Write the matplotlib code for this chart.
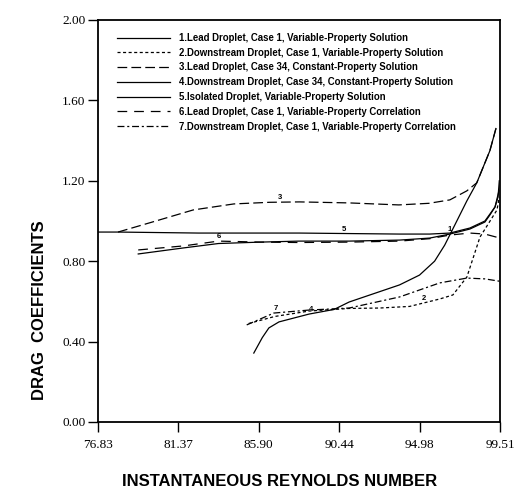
import numpy as np
import matplotlib
matplotlib.use("Agg")
import matplotlib.pyplot as plt

plt.rcParams['lines.scale_dashes'] = False

# reynolds number (x) / drag coefficient (y)
x1 = [79.10, 81.65, 83.63, 86.0, 88.17, 91.0, 93.84, 95.54, 96.68, 97.81, 98.66, 98.94, 99.23, 99.40, 99.47]
y1 = [0.836, 0.866, 0.888, 0.895, 0.900, 0.900, 0.905, 0.915, 0.935, 0.960, 0.995, 1.030, 1.070, 1.120, 1.200]

x2 = [85.33, 86.8, 88.74, 91.0, 92.71, 94.41, 96.11, 96.85, 97.64, 98.38, 99.34, 99.47]
y2 = [0.490, 0.525, 0.552, 0.565, 0.567, 0.575, 0.612, 0.632, 0.721, 0.920, 1.055, 1.120]

x3 = [77.96, 79.9, 82.2, 84.5, 86.5, 88.2, 91.0, 93.8, 95.5, 96.68, 97.64, 98.20, 98.94, 99.28]
y3 = [0.945, 0.995, 1.055, 1.085, 1.093, 1.095, 1.090, 1.080, 1.088, 1.105, 1.150, 1.190, 1.350, 1.460]

x4 = [85.62, 86.10, 86.47, 87.04, 88.74, 90.15, 91.0, 93.84, 94.97, 95.82, 96.39, 96.96, 97.64, 98.20, 98.94, 99.28]
y4 = [0.343, 0.420, 0.468, 0.498, 0.537, 0.560, 0.597, 0.682, 0.731, 0.800, 0.880, 0.980, 1.100, 1.190, 1.350, 1.460]

x5 = [76.83, 77.96, 82.5, 88.17, 93.84, 95.54, 96.68, 97.81, 98.66, 99.23, 99.45]
y5 = [0.945, 0.945, 0.940, 0.940, 0.935, 0.935, 0.940, 0.965, 1.000, 1.070, 1.150]

x6 = [79.10, 81.65, 83.63, 86.0, 88.17, 91.0, 93.84, 95.54, 96.68, 97.81, 98.66, 99.51]
y6 = [0.856, 0.876, 0.900, 0.895, 0.893, 0.895, 0.900, 0.912, 0.930, 0.940, 0.935, 0.915]

x7 = [85.22, 86.75, 88.74, 91.0, 93.84, 96.11, 97.64, 98.66, 99.51]
y7 = [0.483, 0.542, 0.557, 0.567, 0.622, 0.692, 0.716, 0.712, 0.700]

labels = [
    "1.Lead Droplet, Case 1, Variable-Property Solution",
    "2.Downstream Droplet, Case 1, Variable-Property Solution",
    "3.Lead Droplet, Case 34, Constant-Property Solution",
    "4.Downstream Droplet, Case 34, Constant-Property Solution",
    "5.Isolated Droplet, Variable-Property Solution",
    "6.Lead Droplet, Case 1, Variable-Property Correlation",
    "7.Downstream Droplet, Case 1, Variable-Property Correlation",
]
styles = ['-', (0, (2.2, 1.8)), (0, (7, 3)), '-', '-', (0, (7, 5)), (0, (5, 2, 1.5, 2))]
curves = [(x1, y1), (x2, y2), (x3, y3), (x4, y4), (x5, y5), (x6, y6), (x7, y7)]

# where the little curve numbers sit (x value on each curve)
tag_x = {"1": (0, 96.68), "2": (1, 95.2), "3": (2, 87.09), "4": (3, 88.85),
         "5": (4, 90.72), "6": (5, 83.63), "7": (6, 86.87)}

xticks = [76.83, 81.37, 85.90, 90.44, 94.98, 99.51]
yticks = [0.0, 0.4, 0.8, 1.2, 1.6, 2.0]

fig = plt.figure(figsize=(5.29, 4.95), dpi=100)
ax = fig.add_axes([98/529, 73/495, 402/529, 402/495])

for (xs, ys), ls, lab in zip(curves, styles, labels):
    ax.plot(xs, ys, color='black', lw=0.9, linestyle=ls, label=lab)

for t, (i, xv) in tag_x.items():
    xs, ys = curves[i]
    ax.text(xv, np.interp(xv, xs, ys) + 0.004, t, fontsize=5.5, fontweight='bold',
            ha='center', va='bottom', family='Liberation Sans')

ax.set_xlim(76.83, 99.51)
ax.set_ylim(0, 2.0)
ax.set_xticks(xticks)
ax.set_xticklabels(["%.2f" % v for v in xticks])
ax.set_yticks(yticks)
ax.set_yticklabels(["%.2f" % v for v in yticks])
ax.tick_params(direction='out', length=7, width=1.0, labelsize=9.5, pad=2)
ax.tick_params(axis='x', pad=5)
for lab in ax.get_xticklabels() + ax.get_yticklabels():
    lab.set_family('Liberation Serif')
for s in ax.spines.values():
    s.set_linewidth(1.3)

leg = ax.legend(loc='upper left', bbox_to_anchor=(0.047, 0.968), frameon=False,
                prop={'family': 'Liberation Sans', 'weight': 'bold', 'size': 6.9},
                handlelength=5.5, handletextpad=1.0, labelspacing=0.5,
                borderpad=0, borderaxespad=0)

fig.text(40/529, (495-310)/495, "DRAG  COEFFICIENTS", rotation=90, ha='center', va='center',
         fontsize=12, fontweight='bold', family='Liberation Sans')
fig.text(280/529, (495-482)/495, "INSTANTANEOUS REYNOLDS NUMBER", ha='center', va='center',
         fontsize=12, fontweight='bold', family='Liberation Sans')

fig.savefig("out.png", dpi=100)
